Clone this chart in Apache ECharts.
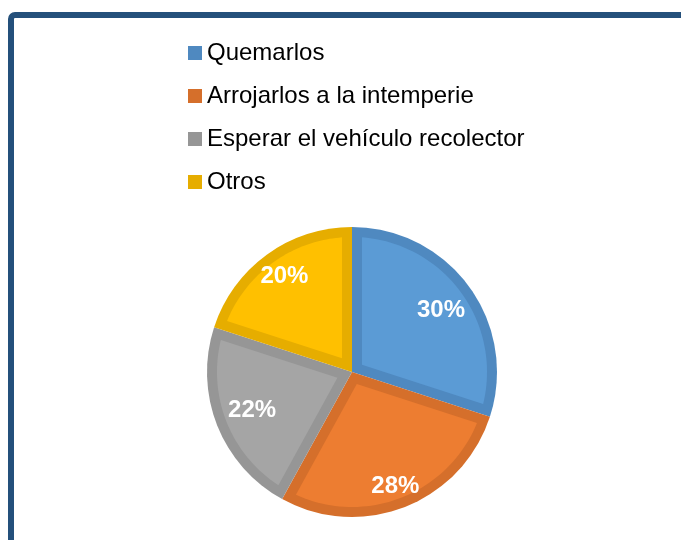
<!DOCTYPE html>
<html>
<head>
<meta charset="utf-8">
<script src="https://cdn.jsdelivr.net/npm/echarts@6/dist/echarts.min.js"></script>
<style>
  html, body { margin: 0; padding: 0; background: #fff; }
  #chart { width: 681px; height: 540px; }
</style>
</head>
<body>
<div id="chart"></div>
<script>
const categories = ['Quemarlos', 'Arrojarlos a la intemperie', 'Esperar el vehículo recolector', 'Otros'];
const shares = [30, 28, 22, 20];
const fillColors = ['#5b9bd5', '#ed7d31', '#a5a5a5', '#ffc000'];
const edgeColors = ['#4f89c0', '#d56f2b', '#969696', '#e6ad00'];

const CENTER = [352, 372];
const PIE_R = 145;   // outer radius in px
const EDGE = 10;     // darker rim width in px

// start / end of every slice on the 0..100 angle axis
const total = shares.reduce((a, b) => a + b, 0);
let acc = 0;
const spans = shares.map((v, i) => {
  const s = acc / total * 100;
  acc += v;
  return [s, acc / total * 100, i];
});

const chart = echarts.init(document.getElementById('chart'));

// lighter inner part of a slice, inset by EDGE from every side
function renderInset(params, api) {
  const s = api.value(0);
  const e = api.value(1);
  const idx = api.value(2);
  const inner = PIE_R - EDGE;
  const span = (e - s) / 100 * Math.PI * 2;
  const tip = EDGE / Math.sin(span / 2);
  const dv = Math.asin(EDGE / inner) / (Math.PI * 2) * 100;
  const toXY = (p) => [p[0], p[1]];
  const pts = [toXY(api.coord([tip, (s + e) / 2]))];
  const steps = 48;
  for (let k = 0; k <= steps; k++) {
    const a = s + dv + (e - s - 2 * dv) * k / steps;
    pts.push(toXY(api.coord([inner, a])));
  }
  return {
    type: 'polygon',
    z2: 10,
    shape: { points: pts },
    style: { fill: fillColors[idx] }
  };
}

// small nudges so the percent labels sit where the original put them
const labelNudge = [[-4, 6], [1, 7], [7, -4], [0, -3]];

const option = {
  animation: false,
  graphic: [
    {
      type: 'rect',
      silent: true,
      shape: { x: 11, y: 15, width: 900, height: 900, r: 4 },
      style: { fill: 'none', stroke: '#24507b', lineWidth: 6 }
    }
  ],
  legend: {
    orient: 'vertical',
    left: 183,
    top: 36,
    itemWidth: 14,
    itemHeight: 14,
    itemGap: 19,
    icon: 'rect',
    textStyle: { fontFamily: 'Liberation Sans, Arial', fontSize: 24, color: '#000' },
    data: categories.map((name, i) => ({ name: name, itemStyle: { color: edgeColors[i], borderWidth: 0 } }))
  },
  polar: { center: CENTER, radius: PIE_R },
  angleAxis: { type: 'value', min: 0, max: 100, startAngle: 90, clockwise: true, show: false },
  radiusAxis: { type: 'value', min: 0, max: PIE_R, show: false },
  series: [
    {
      type: 'pie',
      center: CENTER,
      radius: [0, PIE_R],
      startAngle: 90,
      clockwise: true,
      silent: true,
      z: 1,
      itemStyle: { borderWidth: 0 },
      label: { show: false },
      labelLine: { show: false },
      data: categories.map((name, i) => ({
        name: name,
        value: shares[i],
        itemStyle: { color: edgeColors[i] }
      }))
    },
    {
      type: 'custom',
      coordinateSystem: 'polar',
      silent: true,
      z: 3,
      renderItem: renderInset,
      data: spans
    },
    {
      type: 'pie',
      center: CENTER,
      radius: [0, 224],
      startAngle: 90,
      clockwise: true,
      silent: true,
      legendHoverLink: false,
      z: 5,
      itemStyle: { color: 'rgba(0,0,0,0)', borderWidth: 0 },
      label: {
        show: true,
        position: 'inside',
        formatter: (p) => p.value + '%',
        color: '#fff',
        fontFamily: 'Liberation Sans, Arial',
        fontWeight: 'bold',
        fontSize: 24
      },
      labelLine: { show: false },
      data: categories.map((name, i) => ({
        name: name,
        value: shares[i],
        label: { offset: labelNudge[i] }
      }))
    }
  ]
};

chart.setOption(option);
</script>
</body>
</html>
